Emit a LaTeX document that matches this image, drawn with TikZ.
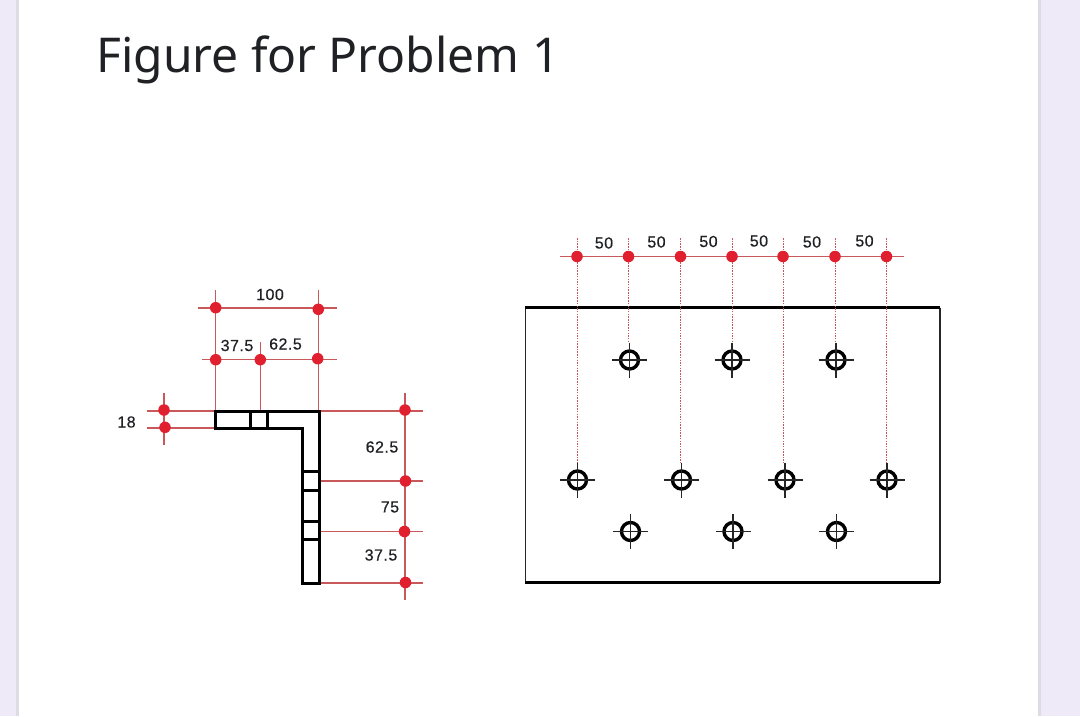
\documentclass[tikz,border=0pt]{standalone}
\usepackage{fontspec}
\setmainfont{Liberation Sans}
\newfontfamily\titlefont{Noto Sans}
\newfontfamily\labfont[FakeBold=0.45,LetterSpace=3]{Liberation Sans}
\definecolor{lav}{HTML}{EEEAF8}
\definecolor{edge}{HTML}{DEDCE3}
\definecolor{redline}{HTML}{C9585A}
\definecolor{reddot}{HTML}{E0202E}
\definecolor{ink}{HTML}{202124}
\tikzset{
  dim/.style={draw=redline,line width=1.1pt},
  dimdot/.style={circle,fill=reddot,draw=none,minimum size=11.5pt,inner sep=0pt},
  dimdotted/.style={draw=redline,line width=1pt,dash pattern=on 1.5pt off 1.2pt},
  part/.style={draw=black,line width=3pt,line join=miter},
  hole/.style={circle,draw=black,line width=3.4pt,minimum size=18pt,inner sep=0pt},
  holeaxis/.style={draw=black!85,line width=1.2pt},
  lab/.style={font=\labfont\fontsize{16}{18}\selectfont,text=ink,inner sep=0pt},
}
\begin{document}
\begin{tikzpicture}[x=1pt,y=-1pt]
\useasboundingbox (0,0) rectangle (1080,716);
\fill[white] (0,0) rectangle (1080,716);
\fill[lav] (0,0) rectangle (16,716);
\fill[edge] (16,0) rectangle (19,716);
\fill[lav] (1041,0) rectangle (1080,716);
\fill[edge] (1038,0) rectangle (1041,716);
\node[anchor=base west,inner sep=0pt,text=ink,font=\titlefont\fontsize{48}{56}\selectfont] (title) at (96,72.5) {Figure for Problem 1};

% free ends
\foreach \n/\x/\y in {ah1/198/308,ah2/337/308,bh1/202/359.5,bh2/337/359.5,
  av1/215.7/290,av2/318.5/290,av3/260.3/342,
  c1/215.7/411,c2/260.3/411,c3/318.5/411,
  lh1/147/411,lh2/215.7/411,lh3/147/428,lh4/215.7/428,lv1/164/393,lv2/164/445,
  rv1/405/393,rv2/405/600,
  r1a/319/411,r1b/423/411,r2a/319/481,r2b/423/481,r3a/319/531.5,r3b/423/531.5,r4a/319/583,r4b/423/583,
  th1/560/256.5,th2/904/256.5}
  \coordinate (\n) at (\x,\y);

% left extension lines
\draw[dim] (ah1)--(ah2) (bh1)--(bh2) (av1)--(c1) (av2)--(c3) (av3)--(c2)
  (lh1)--(lh2) (lh3)--(lh4) (lv1)--(lv2) (rv1)--(rv2)
  (r1a)--(r1b) (r2a)--(r2b) (r3a)--(r3b) (r4a)--(r4b) (th1)--(th2);

% left part
\draw[part] (215.7,411.3)--(319,411.3)--(319,583)--(302,583)--(302,428)--(215.7,428)--cycle;
\draw[part] (250.3,411.3)--(250.3,428) (267.3,411.3)--(267.3,428)
  (302,471)--(319,471) (302,490)--(319,490) (302,521.3)--(319,521.3) (302,539.7)--(319,539.7);

% left dots
\foreach \n/\x/\y in {a1/215.7/307.7,a2/318.3/309.3,b1/215.7/359.7,b2/260.3/359.7,b3/317.7/358.7,
  l1/164/410,l2/165/427.3,r1/405/410,r2/405.5/481,r3/404.5/531.5,r4/405.5/582.5}
  \node[dimdot] (\n) at (\x,\y) {};

% plate
\draw[black!85,line width=1.4pt] (525.7,307.7)--(525.7,582.7) (940,307.7)--(940,582.7);
\draw[black,line width=3pt] (525,307.7)--(940,307.7) (525,582.7)--(940,582.7);

% holes
\foreach \n/\x/\y in {h1/629.5/360,h2/732/360,h3/836/360,
  h4/577.5/480,h5/681.5/480,h6/785/480,h7/887/480,
  h8/630.5/531.5,h9/733/531.5,h10/836.5/531.5}{
  \node[hole] (\n) at (\x,\y) {};
  \draw[holeaxis] ([xshift=-17.5pt]\n.center)--([xshift=17.5pt]\n.center)
                  ([yshift=-17.5pt]\n.center)--([yshift=17.5pt]\n.center);
}

% top dots and dotted lines
\foreach \n/\x/\h in {d1/577/h4,d2/628.5/h1,d3/680.5/h5,d4/732/h2,d5/783/h6,d6/835/h3,d7/886.5/h7}{
  \coordinate (\n t) at (\x,238);
  \coordinate (\n e) at ([yshift=17.5pt]\h.center);
  \draw[dimdotted] (\n t)--(\n t |- \n e);
  \node[dimdot] (\n) at (\x,256.5) {};
}

% labels
\foreach \n/\x/\y/\t in {t1/270/294.5/100,t2/237/345.5/37.5,t3/285.5/344/62.5,t4/126.5/422/18,
  t5/382/447/62.5,t6/390/507/75,t7/381/555/37.5,
  u1/604/243/50,u2/656.5/242/50,u3/708.5/241.5/50,u4/759/241/50,u5/812/242/50,u6/864.5/241/50}
  \node[lab] (\n) at (\x,\y) {\t};
\end{tikzpicture}
\end{document}
